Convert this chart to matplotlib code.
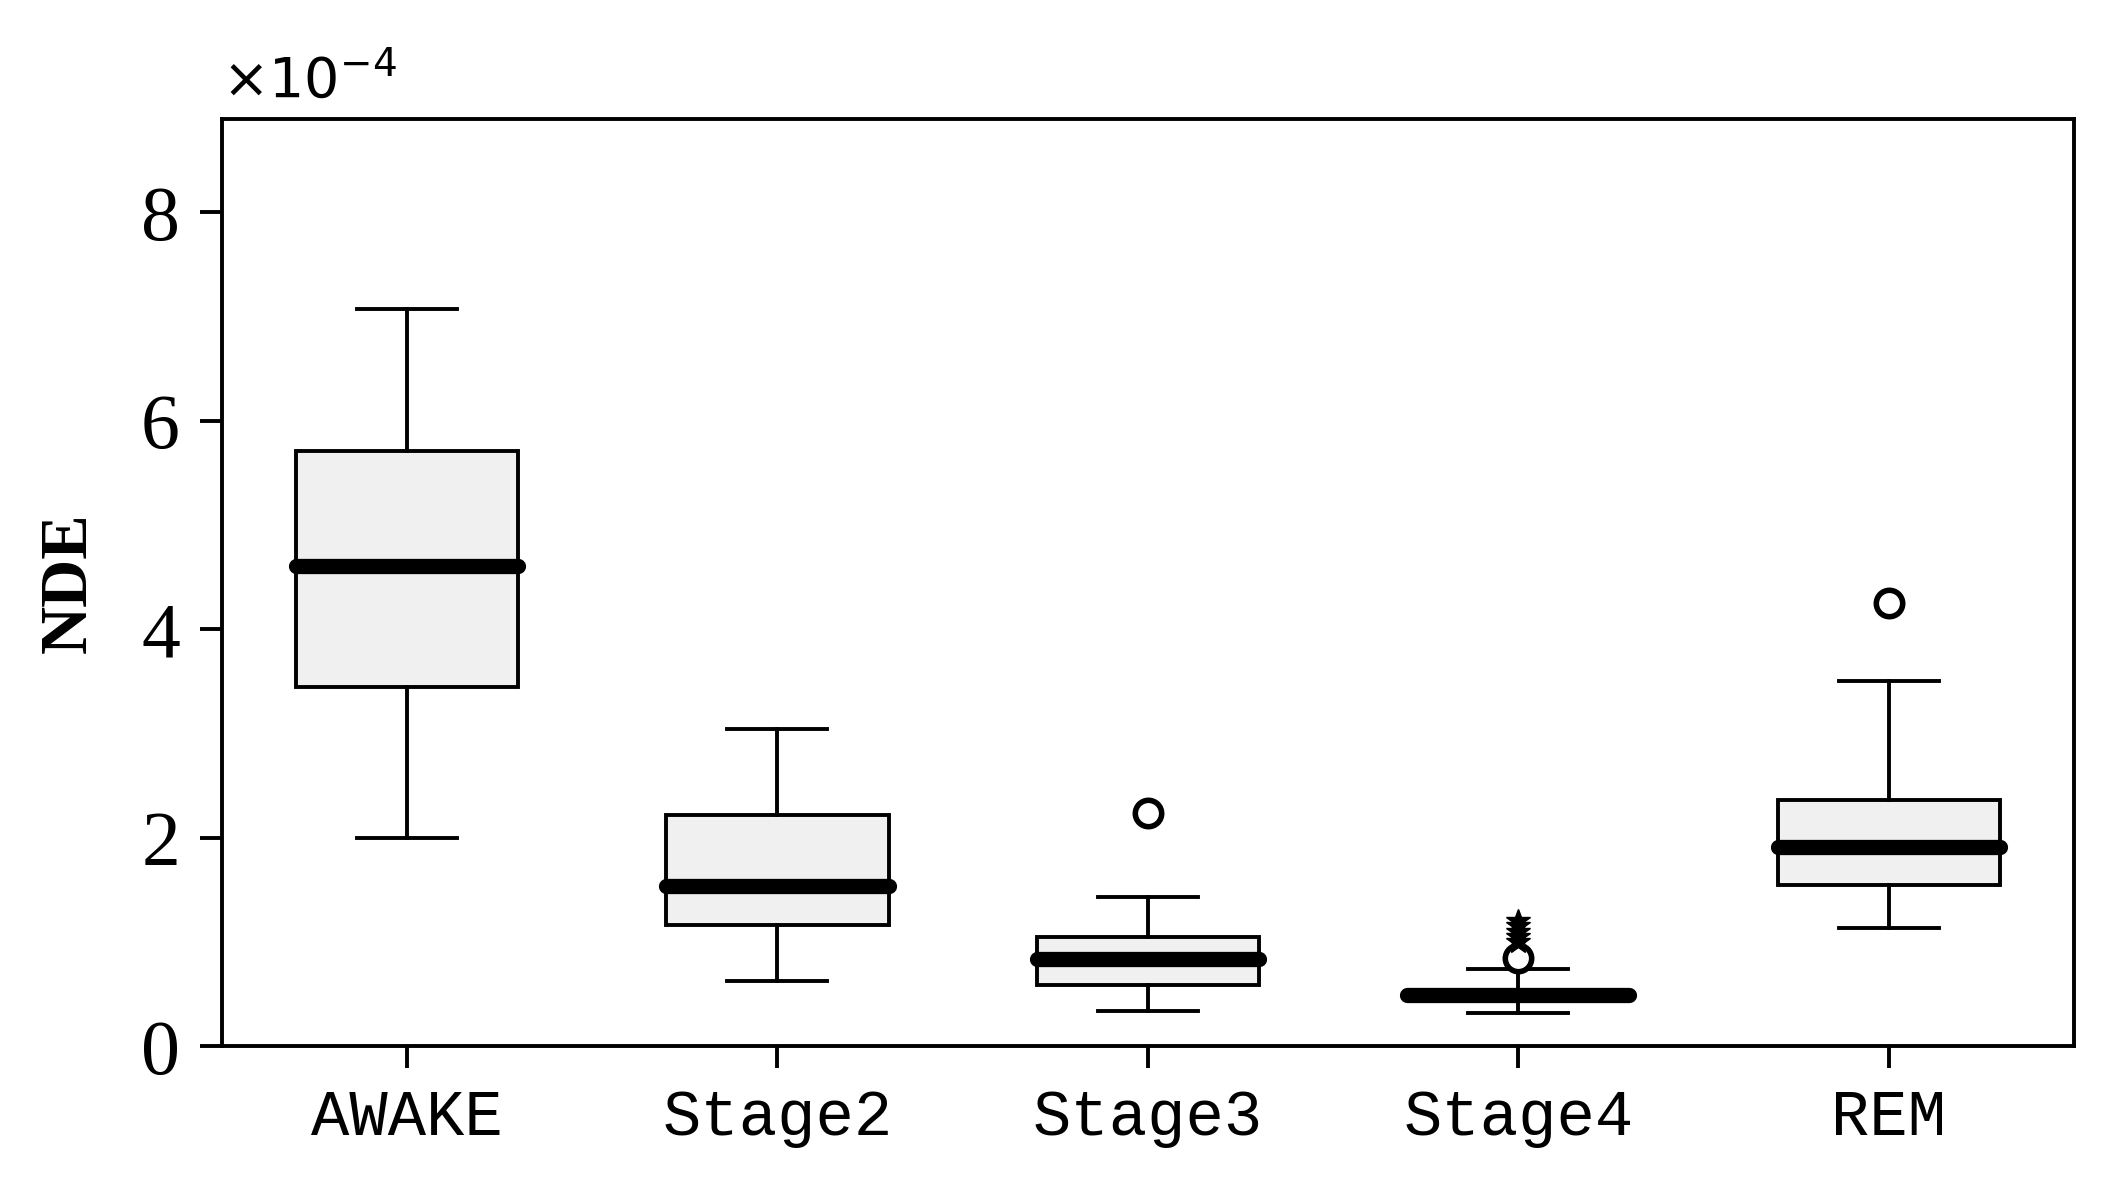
import matplotlib
matplotlib.use("Agg")
import matplotlib.pyplot as plt

categories = ["AWAKE", "Stage2", "Stage3", "Stage4", "REM"]
whislo = [2.0, 0.63, 0.34, 0.32, 1.14]
q1 = [3.45, 1.16, 0.59, 0.47, 1.55]
med = [4.61, 1.54, 0.84, 0.49, 1.91]
q3 = [5.71, 2.22, 1.05, 0.51, 2.36]
whishi = [7.07, 3.04, 1.43, 0.74, 3.50]
outliers_circle = [[], [], [2.24], [0.85], [4.25]]
outliers_star = [[], [], [], [1.0, 1.05, 1.1, 1.15, 1.2], []]

fig = plt.figure(figsize=(21.12, 11.85), dpi=100)
ax = fig.add_axes([0.105, 0.117, 0.877, 0.783])
stats = [dict(label=c, whislo=a, q1=b, med=m, q3=d, whishi=e, fliers=[])
         for c, a, b, m, d, e in zip(categories, whislo, q1, med, q3, whishi)]
pos = list(range(1, 6))
ax.bxp(stats, positions=pos, widths=0.6, patch_artist=True, showfliers=False,
       boxprops=dict(facecolor="#f0f0f0", edgecolor="black", linewidth=2.8),
       whiskerprops=dict(color="black", linewidth=2.8),
       capprops=dict(color="black", linewidth=2.8),
       medianprops=dict(color="black", linewidth=11, solid_capstyle="round"),
       capwidths=0.27)
for p, ys in zip(pos, outliers_circle):
    if ys:
        ax.plot([p]*len(ys), ys, "o", mfc="white", mec="black", mew=4, ms=19)
for p, ys in zip(pos, outliers_star):
    if ys:
        ax.plot([p]*len(ys), ys, "*", color="black", ms=18)
ax.set_xlim(0.5, 5.5)
ax.set_ylim(0, 8.9)
ax.set_yticks([0, 2, 4, 6, 8])
ax.set_yticklabels(["0", "2", "4", "6", "8"], fontfamily="Liberation Serif", fontsize=56)
ax.set_xticks(pos)
ax.set_xticklabels(categories, fontfamily="Liberation Mono", fontsize=46)
ax.tick_params(axis="both", direction="out", length=16, width=2.8, pad=14)
for s in ax.spines.values():
    s.set_linewidth(2.8)
ax.set_ylabel("NDE", fontfamily="Liberation Serif", fontweight="bold", fontsize=48, labelpad=30)
ax.text(0.0, 1.01, r"$\times$10$^{-4}$", transform=ax.transAxes, fontsize=40,
        fontfamily="DejaVu Sans", va="bottom", ha="left")
fig.savefig("out.png", dpi=100)
